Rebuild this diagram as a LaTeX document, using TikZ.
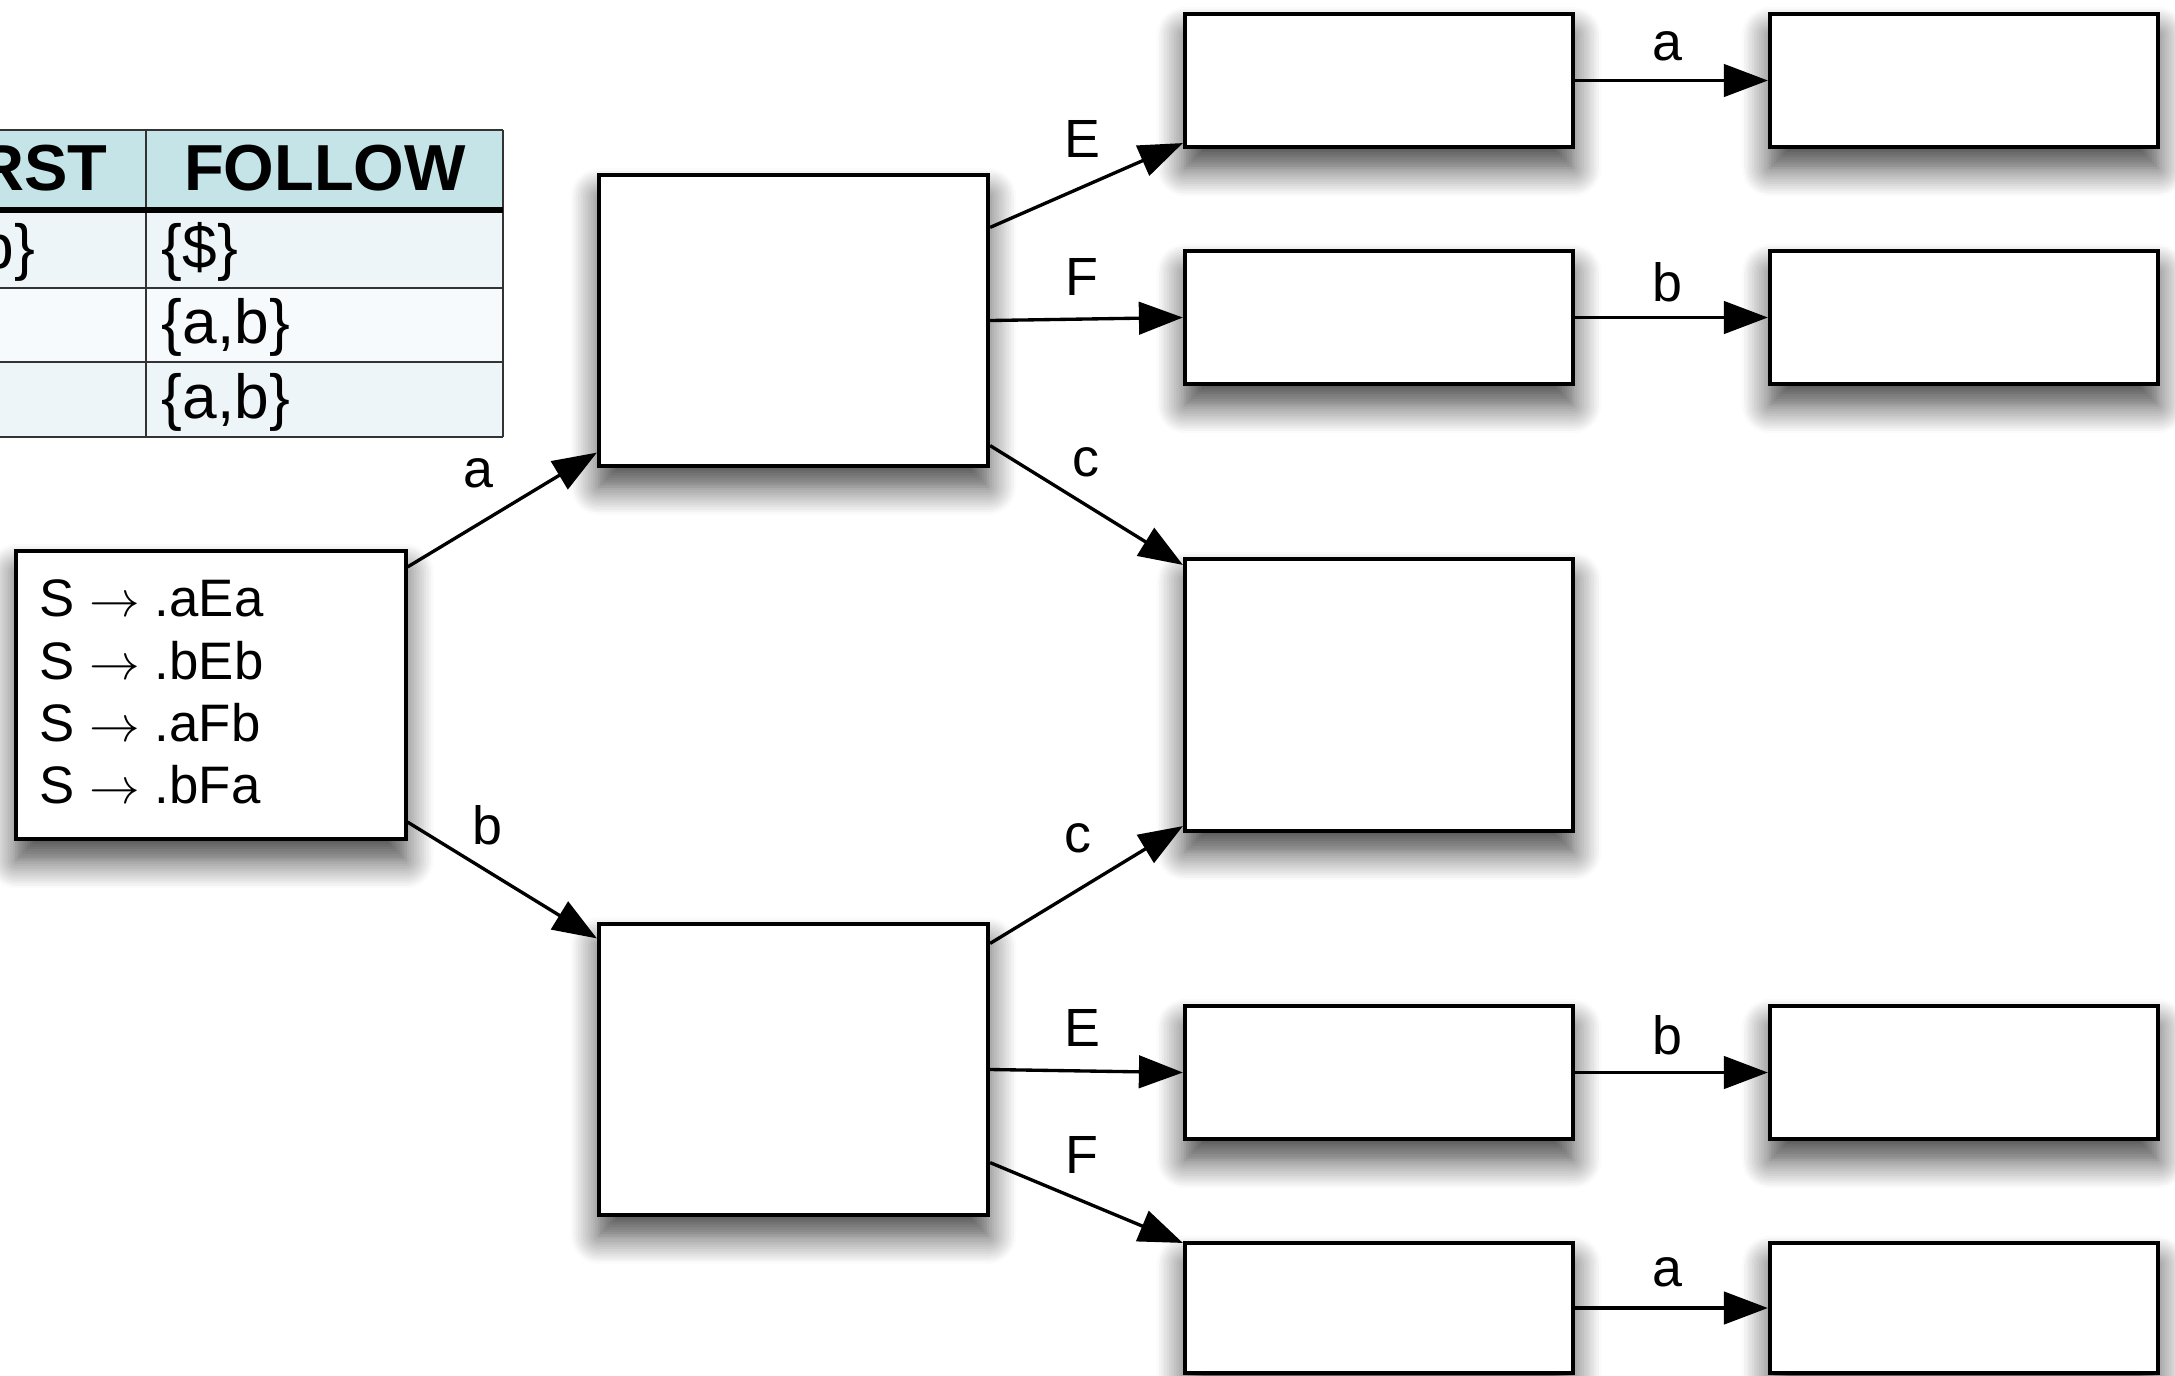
\documentclass[tikz,border=0pt]{standalone}
\usepackage{fontspec}
\setmainfont{Liberation Sans}
\usetikzlibrary{calc,arrows.meta,shadows.blur}
\definecolor{hdr}{HTML}{C5E4E8}
\definecolor{rowa}{HTML}{EEF5F8}
\definecolor{rowb}{HTML}{F7FAFC}
\definecolor{tline}{HTML}{333333}
\tikzset{
  state/.style={draw=black, line width=1.15pt, fill=white, rectangle, inner sep=0pt,
    blur shadow={shadow xshift=0pt, shadow yshift=-6pt, shadow blur radius=8pt, shadow blur steps=12, shadow opacity=75}},
  bigbox/.style={state, minimum width=3.89cm, minimum height=2.90cm},
  midbox/.style={state, minimum width=3.88cm, minimum height=2.72cm},
  smallbox/.style={state, minimum width=3.88cm, minimum height=1.33cm},
  trans/.style={line width=0.95pt, -{Triangle[length=12.5pt,width=9.2pt]}},
  lbl/.style={font=\fontsize{15.3}{18}\selectfont, inner sep=0pt},
  tlinestyle/.style={draw=tline, line width=0.6pt},
  cell/.style={font=\fontsize{17.7}{20}\selectfont, inner sep=0pt},
  head/.style={font=\fontsize{18.5}{22}\selectfont\bfseries, inner sep=0pt},
}
\begin{document}
\begin{tikzpicture}[x=0.01cm,y=-0.01cm]
\useasboundingbox (0,0) rectangle (2175,1375);
\begin{scope}
\clip (0,0) rectangle (2175,1375);
% table
\fill[hdr] (-200,130) rectangle (503,210);
\fill[rowa] (-200,210) rectangle (503,288);
\fill[rowb] (-200,288) rectangle (503,362);
\fill[rowa] (-200,362) rectangle (503,437);
\draw[tlinestyle] (-200,130) -- (503,130);
\draw[tlinestyle] (-200,288) -- (503,288);
\draw[tlinestyle] (-200,362) -- (503,362);
\draw[tlinestyle] (-200,437) -- (503,437);
\draw[tlinestyle] (146,130) -- (146,437);
\draw[tlinestyle] (503,130) -- (503,437);
\draw[black, line width=1.6pt] (-200,210) -- (503,210);
\node[head, anchor=east] (hfirst) at (108,168) {RST};
\node[head] (hfollow) at (325,168) {FOLLOW};
\node[cell, anchor=east] (c11) at (36,252) {b\}};
\node[cell, anchor=west] (c12) at (161,252) {\{\$\}};
\node[cell, anchor=west] (c22) at (161,327) {\{a,b\}};
\node[cell, anchor=west] (c32) at (161,402) {\{a,b\}};

% states
\node[state, minimum width=3.89cm, minimum height=2.88cm] (start) at (211,695) {};
\node[anchor=west, align=left, inner sep=0pt, font=\fontsize{15}{17.7}\selectfont] (stext) at (39,692)
  {S $\rightarrow$ .aEa\\S $\rightarrow$ .bEb\\S $\rightarrow$ .aFb\\S $\rightarrow$ .bFa};
\node[bigbox] (A) at (793.5,320.5) {};
\node[bigbox] (B) at (793.5,1069.5) {};
\node[midbox] (C) at (1379,695) {};
\node[smallbox] (E1) at (1379,80.5) {};
\node[smallbox] (a1) at (1964,80.5) {};
\node[smallbox] (F1) at (1379,317.5) {};
\node[smallbox] (b1) at (1964,317.5) {};
\node[smallbox] (E2) at (1379,1072.5) {};
\node[smallbox] (b2) at (1964,1072.5) {};
\node[state, minimum width=3.88cm, minimum height=1.30cm] (F2) at (1379,1308) {};
\node[state, minimum width=3.88cm, minimum height=1.30cm] (a2) at (1964,1308) {};

% transitions
\draw[trans] ($(start.north east)+(0,18)$) -- ($(A.south west)+(0,-15)$);
\draw[trans] ($(start.south east)+(0,-19)$) -- ($(B.north west)+(0,16)$);
\draw[trans] ($(A.north east)+(0,54)$) -- ($(E1.south west)+(0,-6)$);
\draw[trans] (A.east) -- (F1.west);
\draw[trans] ($(A.south east)+(0,-22)$) -- ($(C.north west)+(0,8)$);
\draw[trans] ($(B.north east)+(0,21)$) -- ($(C.south west)+(0,-7)$);
\draw[trans] (B.east) -- (E2.west);
\draw[trans] ($(B.south east)+(0,-54)$) -- ($(F2.north west)+(0,2)$);
\draw[trans] (E1.east) -- (a1.west);
\draw[trans] (F1.east) -- (b1.west);
\draw[trans] (E2.east) -- (b2.west);
\draw[trans] (F2.east) -- (a2.west);

% labels
\node[lbl] (l1) at (478,473) {a};
\node[lbl] (l2) at (487,825) {b};
\node[lbl] (l3) at (1082,139) {E};
\node[lbl] (l4) at (1082,277) {F};
\node[lbl] (l5) at (1086,462) {c};
\node[lbl] (l6) at (1078,838) {c};
\node[lbl] (l7) at (1082,1028) {E};
\node[lbl] (l8) at (1082,1155) {F};
\node[lbl] (l9) at (1667,46) {a};
\node[lbl] (l10) at (1667,282) {b};
\node[lbl] (l11) at (1667,1035) {b};
\node[lbl] (l12) at (1667,1272) {a};
\end{scope}
\end{tikzpicture}
\end{document}
